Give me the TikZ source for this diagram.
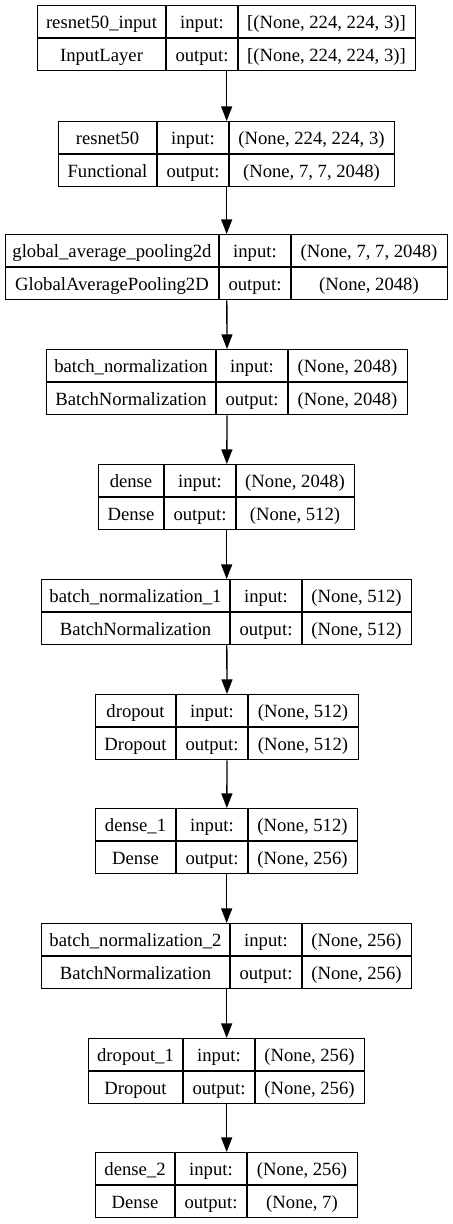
\documentclass[tikz,border=0pt]{standalone}
\usepackage{fontspec}
\setmainfont{Liberation Serif}
\usetikzlibrary{arrows.meta}

% one layer: node, top, left, first divider, right, name, class, input shape, output shape
\newcommand{\layer}[9]{%
  \node[box, minimum width={(#5-#3)*0.75pt}, anchor=north west] (#1) at (#3,#2) {};
  \draw (#3,#2+33) -- (#5,#2+33);
  \draw (#4,#2) -- (#4,#2+65) (#4+72,#2) -- (#4+72,#2+65);
  \node[txt] at ({(#3+#4)/2},#2+23.5) {#6};
  \node[txt] at ({(#3+#4)/2},#2+56) {#7};
  \node[txt] at ({#4+36},#2+23.5) {input:};
  \node[txt] at ({#4+36},#2+56) {output:};
  \node[txt] at ({(#4+72+#5)/2},#2+23.5) {#8};
  \node[txt] at ({(#4+72+#5)/2},#2+56) {#9};
}

\begin{document}
\begin{tikzpicture}[x=0.75pt, y=-0.75pt, line width=1pt,
  box/.style={draw, inner sep=0pt, minimum height=48.75pt},
  txt/.style={anchor=base, inner sep=0pt, font=\fontsize{14pt}{16pt}\selectfont},
  flow/.style={-{Triangle[length=11pt, width=8.25pt]}}]
\useasboundingbox (0,0) rectangle (453,1224);

% Layers of the model
\layer{input}{5}{37}{166}{415}{resnet50\_input}{InputLayer}{[(None, 224, 224, 3)]}{[(None, 224, 224, 3)]}
\layer{resnet}{121}{58}{157}{394}{resnet50}{Functional}{(None, 224, 224, 3)}{(None, 7, 7, 2048)}
\layer{gap}{234}{5}{219}{447}{global\_average\_pooling2d}{GlobalAveragePooling2D}{(None, 7, 7, 2048)}{(None, 2048)}
\layer{bn}{349}{46}{216}{407}{batch\_normalization}{BatchNormalization}{(None, 2048)}{(None, 2048)}
\layer{dense}{464}{98}{164}{354}{dense}{Dense}{(None, 2048)}{(None, 512)}
\layer{bnone}{579}{41}{230}{411}{batch\_normalization\_1}{BatchNormalization}{(None, 512)}{(None, 512)}
\layer{drop}{694}{95}{176}{358}{dropout}{Dropout}{(None, 512)}{(None, 512)}
\layer{denseone}{808}{95}{176}{357}{dense\_1}{Dense}{(None, 512)}{(None, 256)}
\layer{bntwo}{923}{41}{230}{411}{batch\_normalization\_2}{BatchNormalization}{(None, 256)}{(None, 256)}
\layer{dropone}{1038}{88}{183}{364}{dropout\_1}{Dropout}{(None, 256)}{(None, 256)}
\layer{densetwo}{1152}{95}{175}{357}{dense\_2}{Dense}{(None, 256)}{(None, 7)}

% Connect the layers
\draw[flow] (input) -- (resnet);
\draw[flow] (resnet) -- (gap);
\draw[flow] (gap) -- (bn);
\draw[flow] (bn) -- (dense);
\draw[flow] (dense) -- (bnone);
\draw[flow] (bnone) -- (drop);
\draw[flow] (drop) -- (denseone);
\draw[flow] (denseone) -- (bntwo);
\draw[flow] (bntwo) -- (dropone);
\draw[flow] (dropone) -- (densetwo);
\end{tikzpicture}
\end{document}
